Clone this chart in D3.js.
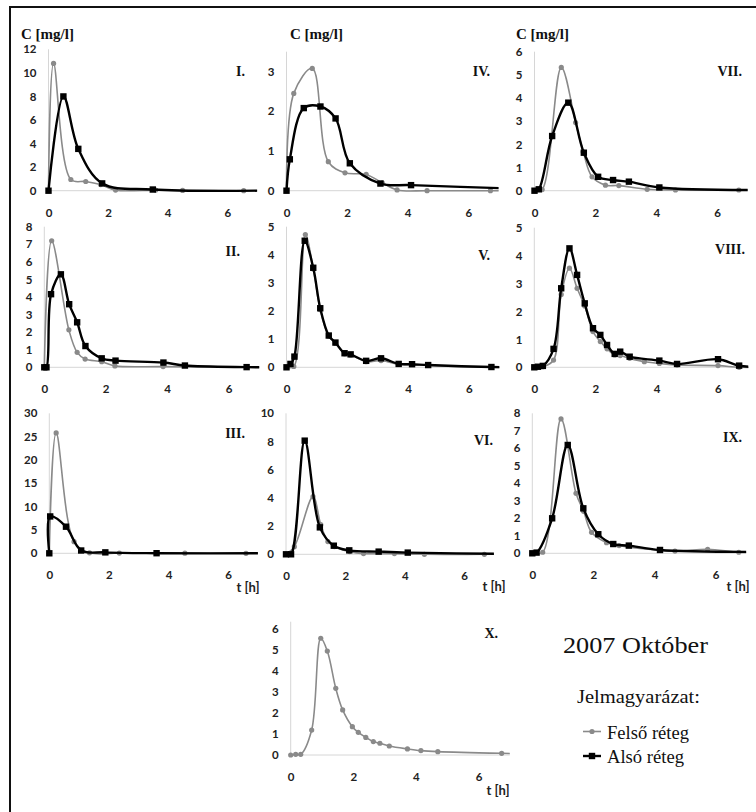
<!DOCTYPE html>
<html>
  <head>
    <meta charset="utf-8" />
    <title>2007 Október</title>
    <script src="https://cdn.jsdelivr.net/npm/d3@7"></script>
    <style>
      body { margin: 0; background: #fff; }
      .tick text { font-family: Lato, "Open Sans", sans-serif; font-weight: bold; font-size: 11.5px; fill: #222; }
    </style>
  </head>
  <body>
    <svg width="756" height="812" id="mainsvg"></svg>
    <script>
      // panel names (Roman numerals) and time ticks
      const panelNames = ["I.", "II.", "III.", "IV.", "V.", "VI.", "VII.", "VIII.", "IX.", "X."];
      const xTicks = [0, 2, 4, 6];

      // y axis ticks / max per panel
      const yTicks = [
        [0, 2, 4, 6, 8, 10, 12],
        [0, 1, 2, 3, 4, 5, 6, 7, 8],
        [0, 5, 10, 15, 20, 25, 30],
        [0, 1, 2, 3],
        [0, 1, 2, 3, 4, 5],
        [0, 2, 4, 6, 8, 10],
        [0, 1, 2, 3, 4, 5, 6],
        [0, 1, 2, 3, 4, 5],
        [0, 1, 2, 3, 4, 5, 6, 7, 8],
        [0, 1, 2, 3, 4, 5, 6],
      ];
      const yMax = [12, 8, 30, 3.5, 5, 10, 6, 5, 8, 6.36];

      // Felső réteg (grey) — [t (h), C (mg/l)]
      const felso1 = [[0,0],[0.17,10.8],[0.75,0.95],[1.25,0.78],[1.75,0.52],[2.25,0.05],[3.6,0.05],[4.5,0.02],[6.55,0],[7.6,0]];
      const felso2 = [[0,0],[0.24,7.2],[0.8,2.13],[1.07,0.85],[1.33,0.47],[1.87,0.32],[2.3,0.08],[3.87,0.04],[6.6,0],[7.6,0]];
      const felso3 = [[0,0],[0.23,25.8],[0.83,2.5],[1.35,0.1],[2.35,0.05],[4.55,0.02],[6.6,0],[7.6,0]];
      const felso4 = [[0,0],[0.24,2.45],[0.85,3.08],[1.38,0.73],[1.93,0.45],[2.63,0.41],[3.16,0.2],[3.65,0.02],[4.64,0],[6.73,0],[7.6,0]];
      const felso5 = [[0,0],[0.24,0.03],[0.62,4.72],[0.88,3.5],[1.11,2.05],[1.39,1.1],[1.61,0.85],[1.91,0.48],[2.11,0.44],[2.62,0.2],[3.11,0.24],[3.69,0.1],[4.13,0.1],[4.66,0.07],[6.74,0],[7.6,0]];
      const felso6 = [[0,0],[0.28,0.54],[0.91,4.09],[1.17,2.1],[1.41,0.9],[1.63,0.55],[2.14,0.19],[2.61,0.05],[3.65,0.05],[4.66,0],[6.68,0],[7.6,0]];
      const felso7 = [[0,0],[0.25,0.05],[0.88,5.32],[1.35,2.94],[1.6,1.68],[1.89,0.6],[2.33,0.24],[2.77,0.22],[3.7,0.06],[4.63,0.03],[6.71,0.03],[7.6,0.02]];
      const felso8 = [[0,0],[0.28,0.02],[0.63,0.26],[0.88,2.61],[1.15,3.55],[1.4,2.83],[1.65,2.2],[1.92,1.28],[2.16,0.92],[2.38,0.66],[2.63,0.44],[2.81,0.42],[3.12,0.32],[3.6,0.2],[4.09,0.14],[4.67,0.08],[6.01,0.06],[6.7,0],[7.6,0]];
      const felso9 = [[0,0],[0.34,0.06],[0.94,7.68],[1.43,3.43],[1.68,2.4],[1.94,1.2],[2.43,0.61],[2.84,0.44],[4.67,0.13],[5.74,0.23],[6.76,0.06],[7.6,0.05]];
      const felso10 = [[0,0],[0.16,0.03],[0.32,0.03],[0.67,1.19],[0.96,5.57],[1.17,4.96],[1.44,3.18],[1.66,2.15],[1.97,1.35],[2.16,1.08],[2.4,0.84],[2.64,0.64],[2.85,0.56],[3.15,0.43],[3.73,0.29],[4.16,0.21],[4.7,0.16],[6.74,0.08],[7.6,0.06]];

      // Alsó réteg (black)
      const also1 = [[0,0],[0.5,8.0],[1.0,3.55],[1.8,0.62],[3.5,0.1],[7.6,0.02]];
      const also2 = [[0,0],[0.07,0],[0.22,4.16],[0.54,5.29],[0.81,3.59],[1.07,2.56],[1.34,1.21],[1.87,0.51],[2.32,0.38],[3.88,0.27],[4.58,0.1],[6.59,0.01],[7.6,0]];
      const also3 = [[0,0],[0.03,7.9],[0.56,5.7],[1.07,0.6],[1.88,0.2],[3.6,0.02],[7.6,0]];
      const also4 = [[0,0],[0.11,0.79],[0.57,2.08],[1.12,2.12],[1.62,1.82],[2.09,0.69],[3.1,0.18],[4.11,0.14],[7.6,0.05]];
      const also5 = [[0,0],[0.13,0.12],[0.26,0.38],[0.6,4.5],[0.88,3.54],[1.11,2.1],[1.39,1.13],[1.61,0.88],[1.91,0.5],[2.11,0.46],[2.62,0.23],[3.11,0.32],[3.69,0.12],[4.13,0.11],[4.66,0.08],[6.74,0.01],[7.6,0]];
      const also6 = [[0,0],[0.17,0],[0.63,8.06],[1.14,1.91],[1.61,0.61],[2.13,0.28],[3.12,0.19],[4.1,0.12],[7.6,0.02]];
      const also7 = [[0,0],[0.14,0.06],[0.58,2.36],[1.11,3.8],[1.62,1.64],[2.09,0.6],[2.58,0.46],[3.1,0.39],[4.1,0.14],[7.6,0.03]];
      const also8 = [[0,0],[0.12,0.02],[0.28,0.05],[0.63,0.66],[0.88,2.83],[1.15,4.26],[1.4,3.31],[1.65,2.29],[1.92,1.4],[2.16,1.16],[2.38,0.8],[2.63,0.48],[2.81,0.56],[3.12,0.38],[4.09,0.24],[4.67,0.12],[6.01,0.29],[6.7,0.06],[7.6,0]];
      const also9 = [[0,0],[0.14,0.04],[0.65,2.0],[1.16,6.19],[1.67,2.57],[2.16,1.09],[2.65,0.53],[3.16,0.44],[4.18,0.19],[7.6,0.08]];
      const also10 = null; // panel X has only the upper layer

      const felso = [felso1, felso2, felso3, felso4, felso5, felso6, felso7, felso8, felso9, felso10];
      const also = [also1, also2, also3, also4, also5, also6, also7, also8, also9, also10];

      // layout: x of t=0, px per hour, y of C=0, y of axis top, label right/baseline
      const layout = [
        { x0: 48.5, pxh: 29.8, y0: 190.7, top: 49.3, lx: 245, ly: 76, cx: 21 },
        { x0: 44.3, pxh: 30.7, y0: 367.3, top: 226.7, lx: 240, ly: 256 },
        { x0: 49.3, pxh: 29.8, y0: 553.3, top: 413.3, lx: 245, ly: 438, tx: 248, ty: 592 },
        { x0: 286.5, pxh: 30.3, y0: 190.7, top: 51.7, lx: 490, ly: 76, cx: 290 },
        { x0: 286.5, pxh: 30.4, y0: 367.3, top: 226.7, lx: 490, ly: 260 },
        { x0: 286, pxh: 29.7, y0: 554.3, top: 413.3, lx: 493, ly: 445, tx: 494, ty: 591 },
        { x0: 534.5, pxh: 30.45, y0: 190.7, top: 51.7, lx: 742, ly: 76, cx: 516 },
        { x0: 534.3, pxh: 30.57, y0: 367.3, top: 227.7, lx: 745, ly: 254 },
        { x0: 532.3, pxh: 30.55, y0: 553.3, top: 413.3, lx: 742, ly: 442, tx: 738, ty: 591 },
        { x0: 290.7, pxh: 31.3, y0: 755, top: 621.7, lx: 498, ly: 638, tx: 498, ty: 795 },
      ];

      const grey = "#8a8a8a";
      const serif = "'Liberation Serif', 'Times New Roman', serif";
      const svg = d3.select("#mainsvg");

      // outer frame (left + top)
      svg.append("line").attr("x1", 10).attr("x2", 10).attr("y1", 6).attr("y2", 812)
        .attr("stroke", "#111").attr("stroke-width", 2);
      svg.append("line").attr("x1", 9).attr("x2", 756).attr("y1", 7).attr("y2", 7)
        .attr("stroke", "#111").attr("stroke-width", 2);

      panelNames.forEach((name, i) => {
        const L = layout[i];
        const w = 7 * L.pxh;
        const xScale = d3.scaleLinear().domain([0, 7]).range([L.x0, L.x0 + w]);
        const yScale = d3.scaleLinear().domain([0, yMax[i]]).range([L.y0, L.top]);
        const g = svg.append("g").attr("class", "panel");

        // axes lines (light grey)
        g.append("line").attr("x1", L.x0).attr("x2", L.x0).attr("y1", L.top).attr("y2", L.y0)
          .attr("stroke", "#d6d6d6").attr("stroke-width", 1);
        g.append("line").attr("x1", L.x0).attr("x2", L.x0 + w).attr("y1", L.y0).attr("y2", L.y0)
          .attr("stroke", "#d6d6d6").attr("stroke-width", 1);

        const yAxis = d3.axisLeft(yScale).tickValues(yTicks[i]).tickFormat(d3.format("d"))
          .tickSize(0).tickPadding(12);
        g.append("g").attr("transform", `translate(${L.x0},0)`).call(yAxis)
          .call((a) => a.select(".domain").remove());
        const xAxis = d3.axisBottom(xScale).tickValues(xTicks).tickFormat(d3.format("d"))
          .tickSize(0).tickPadding(18);
        g.append("g").attr("transform", `translate(0,${L.y0})`).call(xAxis)
          .call((a) => a.select(".domain").remove());

        // clip so that lines end at the plot edge (t = 7)
        const clipId = "clip" + i;
        svg.append("clipPath").attr("id", clipId).append("rect")
          .attr("x", L.x0 - 8).attr("y", L.top - 20)
          .attr("width", w + 8).attr("height", L.y0 - L.top + 28);
        const plot = g.append("g").attr("clip-path", `url(#${clipId})`);

        const line = d3.line()
          .x((d) => xScale(d[0]))
          .y((d) => yScale(d[1]))
          .curve(d3.curveCatmullRom.alpha(0.5));

        if (felso[i]) {
          plot.append("path").attr("d", line(felso[i])).attr("fill", "none")
            .attr("stroke", grey).attr("stroke-width", 1.6);
          plot.selectAll(null).data(felso[i]).join("circle")
            .attr("cx", (d) => xScale(d[0])).attr("cy", (d) => yScale(d[1]))
            .attr("r", 2.6).attr("fill", grey);
        }
        if (also[i]) {
          plot.append("path").attr("d", line(also[i])).attr("fill", "none")
            .attr("stroke", "#000").attr("stroke-width", 2.4);
          plot.selectAll(null).data(also[i]).join("rect")
            .attr("x", (d) => xScale(d[0]) - 3.2).attr("y", (d) => yScale(d[1]) - 3.2)
            .attr("width", 6.4).attr("height", 6.4).attr("fill", "#000");
        }

        // panel label
        g.append("text").text(name)
          .attr("x", L.lx).attr("y", L.ly).attr("text-anchor", "end")
          .attr("font-family", serif)
          .attr("font-weight", "bold").attr("font-size", 14).attr("fill", "#111");

        if (L.cx !== undefined) {
          g.append("text").text("C [mg/l]")
            .attr("x", L.cx).attr("y", 39)
            .attr("font-family", serif)
            .attr("font-weight", "bold").attr("font-size", 15).attr("fill", "#111");
        }
        if (L.tx !== undefined) {
          g.append("text").text("t [h]")
            .attr("x", L.tx).attr("y", L.ty).attr("text-anchor", "middle")
            .attr("font-family", "Lato, 'Open Sans', sans-serif")
            .attr("font-weight", "bold").attr("font-size", 13).attr("fill", "#222");
        }
      });

      // title and legend
      svg.append("text").text("2007 Október").attr("x", 563).attr("y", 653)
        .attr("font-family", serif).attr("font-size", 24)
        .attr("textLength", 145).attr("lengthAdjust", "spacingAndGlyphs").attr("fill", "#111");
      svg.append("text").text("Jelmagyarázat:").attr("x", 577).attr("y", 703)
        .attr("font-family", serif).attr("font-size", 18.5)
        .attr("textLength", 123).attr("lengthAdjust", "spacingAndGlyphs").attr("fill", "#111");

      const legendItems = [
        { label: "Felső réteg", color: grey, y: 731.5, square: false },
        { label: "Alsó réteg", color: "#000", y: 756, square: true },
      ];
      legendItems.forEach((d) => {
        svg.append("line").attr("x1", 583).attr("x2", 601).attr("y1", d.y).attr("y2", d.y)
          .attr("stroke", d.color).attr("stroke-width", d.square ? 2.4 : 1.6);
        if (d.square) {
          svg.append("rect").attr("x", 588.8).attr("y", d.y - 3.2).attr("width", 6.4).attr("height", 6.4).attr("fill", d.color);
        } else {
          svg.append("circle").attr("cx", 592).attr("cy", d.y).attr("r", 2.6).attr("fill", d.color);
        }
        svg.append("text").text(d.label).attr("x", 607).attr("y", d.y + 7)
          .attr("font-family", serif).attr("font-size", 18)
          .attr("textLength", d.square ? 77 : 82).attr("lengthAdjust", "spacingAndGlyphs").attr("fill", "#111");
      });
    </script>
  </body>
</html>
